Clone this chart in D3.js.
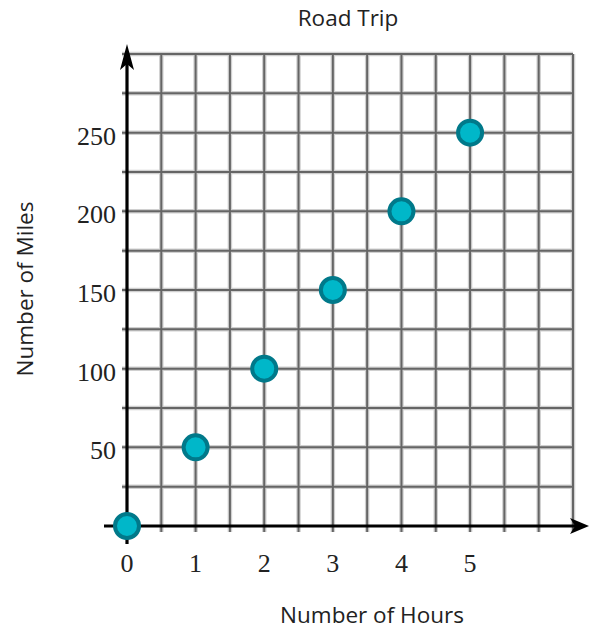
<!DOCTYPE html>
<html>
<head>
<meta charset="utf-8">
<script src="https://cdn.jsdelivr.net/npm/d3@7"></script>
<style>
  body { margin: 0; background: #fff; }
  .tick-label { font-family: "Liberation Serif", "DejaVu Serif", serif; font-size: 26px; fill: #222; }
  .title { font-family: "Open Sans", "Noto Sans", sans-serif; font-size: 22.5px; fill: #222; }
</style>
</head>
<body>
<div id="chart"></div>
<script>
// data
const hours = [0, 1, 2, 3, 4, 5];
const miles = [0, 50, 100, 150, 200, 250];
const xTicks = [0, 1, 2, 3, 4, 5];
const yTicks = [50, 100, 150, 200, 250];

const width = 592, height = 630;

const svg = d3.select("#chart").append("svg")
    .attr("width", width)
    .attr("height", height);

const x = d3.scaleLinear().domain([0, 6.5]).range([127, 573]);
const y = d3.scaleLinear().domain([0, 300]).range([526, 54]);

// grid lines, every half hour and every 25 miles
const gx = d3.range(0, 6.51, 0.5);
const gy = d3.range(0, 301, 25);
const grid = svg.append("g");

[["#d0d0d0", 4.5], ["#656565", 2]].forEach(([col, w], k) => {
    grid.selectAll(".vline-" + k)
        .data(gx.slice(1))
        .enter().append("line")
        .attr("class", "vline-" + k)
        .attr("x1", d => x(d)).attr("x2", d => x(d))
        .attr("y1", y(300)).attr("y2", y(0) + 6)
        .attr("stroke", col).attr("stroke-width", w);
    grid.selectAll(".hline-" + k)
        .data(gy.slice(1))
        .enter().append("line")
        .attr("class", "hline-" + k)
        .attr("x1", x(0) - 5).attr("x2", x(6.5))
        .attr("y1", d => y(d)).attr("y2", d => y(d))
        .attr("stroke", col).attr("stroke-width", w);
});

// axes with arrows
svg.append("line")
    .attr("x1", 104).attr("x2", 580)
    .attr("y1", y(0)).attr("y2", y(0))
    .attr("stroke", "#000").attr("stroke-width", 3.2);
svg.append("line")
    .attr("x1", x(0)).attr("x2", x(0))
    .attr("y1", 52).attr("y2", 544)
    .attr("stroke", "#000").attr("stroke-width", 3.2);
svg.append("path")
    .attr("d", `M589,${y(0)} L570,${y(0) - 8} L575,${y(0)} L570,${y(0) + 8} Z`)
    .attr("fill", "#000");
svg.append("path")
    .attr("d", `M${x(0)},44 L${x(0) - 7},70 L${x(0)},64 L${x(0) + 7},70 Z`)
    .attr("fill", "#000");

// tick labels
svg.selectAll(".xlab")
    .data(xTicks)
    .enter().append("text")
    .attr("class", "tick-label")
    .attr("x", d => x(d))
    .attr("y", 572)
    .attr("text-anchor", "middle")
    .text(d => d);

svg.selectAll(".ylab")
    .data(yTicks)
    .enter().append("text")
    .attr("class", "tick-label")
    .attr("x", 116)
    .attr("y", d => y(d) + 12)
    .attr("text-anchor", "end")
    .text(d => d);

// titles
svg.append("text").attr("class", "title")
    .attr("x", 348).attr("y", 26)
    .attr("text-anchor", "middle")
    .text("Road Trip");
svg.append("text").attr("class", "title")
    .attr("x", 372).attr("y", 623)
    .attr("text-anchor", "middle")
    .text("Number of Hours");
svg.append("text").attr("class", "title")
    .attr("transform", "translate(33,289) rotate(-90)")
    .attr("text-anchor", "middle")
    .text("Number of Miles");

// points
svg.selectAll(".pt")
    .data(hours)
    .enter().append("circle")
    .attr("cx", (d, i) => x(d))
    .attr("cy", (d, i) => y(miles[i]))
    .attr("r", 12)
    .attr("fill", "#00b7c9")
    .attr("stroke", "#00798a")
    .attr("stroke-width", 4);
</script>
</body>
</html>
